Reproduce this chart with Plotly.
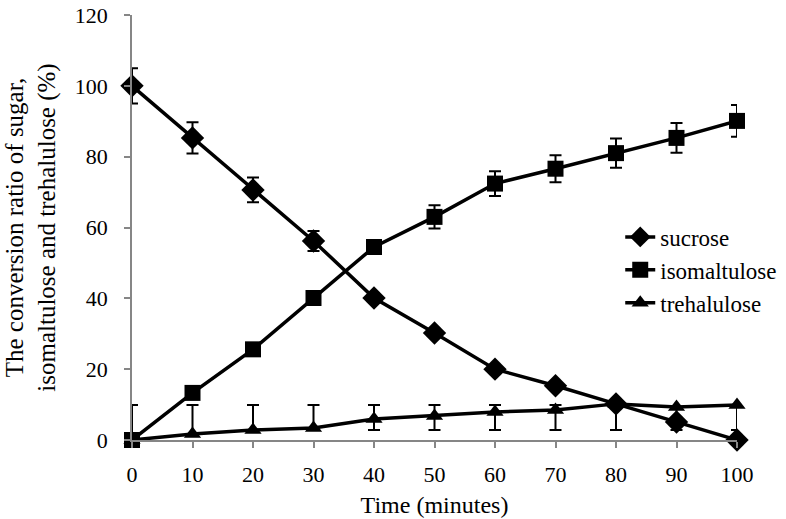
import plotly.graph_objects as go

time_min = [0, 10, 20, 30, 40, 50, 60, 70, 80, 90, 100]
sucrose = [100, 85.3, 70.6, 56.2, 40.1, 30.2, 20.0, 15.3, 10.2, 5.1, 0]
sucrose_err = [5.0, 4.4, 3.5, 2.8, 1.2, 0.5, 0.5, 0.5, 0.5, 0.5, 0]
isomaltulose = [0, 13.3, 25.6, 40.1, 54.5, 63.0, 72.4, 76.6, 81.0, 85.3, 90.1]
isomaltulose_err = [0, 0.5, 0.5, 0.5, 1.5, 3.3, 3.5, 3.8, 4.1, 4.2, 4.5]
trehalulose = [0, 1.7, 2.8, 3.4, 5.9, 6.8, 7.9, 8.5, 10.2, 9.3, 9.9]
trehalulose_err_plus = [9.9, 8.2, 7.1, 6.5, 4.0, 3.1, 2.0, 1.4, 0, 0, 0]
trehalulose_err_minus = [0, 0, 0, 0, 3.1, 4.0, 5.1, 5.7, 7.4, 6.5, 7.1]
y_ticks = [0, 20, 40, 60, 80, 100, 120]

FONT = "Liberation Serif"
AXIS_GREY = "#868686"

fig = go.Figure()

common_err = dict(type="data", color="black", thickness=2, width=6)

fig.add_trace(go.Scatter(
    x=time_min, y=sucrose, name="sucrose", mode="lines+markers",
    line=dict(color="black", width=3.5),
    marker=dict(symbol="diamond", size=18, color="black"),
    error_y=dict(array=sucrose_err, **common_err),
    cliponaxis=False,
))
fig.add_trace(go.Scatter(
    x=time_min, y=isomaltulose, name="isomaltulose", mode="lines+markers",
    line=dict(color="black", width=3.5),
    marker=dict(symbol="square", size=16, color="black"),
    error_y=dict(array=isomaltulose_err, **common_err),
    cliponaxis=False,
))
fig.add_trace(go.Scatter(
    x=time_min, y=trehalulose, name="trehalulose", mode="lines+markers",
    line=dict(color="black", width=3.5),
    marker=dict(symbol="triangle-up", size=15, color="black"),
    error_y=dict(symmetric=False, array=trehalulose_err_plus,
                 arrayminus=trehalulose_err_minus, **common_err),
    cliponaxis=False,
))

fig.update_layout(
    width=786, height=519,
    margin=dict(l=132, r=49, t=15, b=79, autoexpand=False),
    paper_bgcolor="white", plot_bgcolor="white",
    font=dict(family=FONT, size=24, color="black"),
    showlegend=True,
    legend=dict(x=0.807, y=0.40, xanchor="left", yanchor="middle",
                bgcolor="rgba(0,0,0,0)", font=dict(family=FONT, size=23, color="black"),
                tracegroupgap=0),
    xaxis=dict(
        range=[0, 100], tickmode="array", tickvals=time_min,
        ticks="outside", ticklen=6, tickcolor=AXIS_GREY, tickwidth=1.5,
        showline=True, linecolor=AXIS_GREY, linewidth=1.5,
        showgrid=False, zeroline=False, ticklabelstandoff=8, automargin=False,
        title=dict(text="Time (minutes)", font=dict(family=FONT, size=24, color="black"), standoff=10),
        tickfont=dict(family=FONT, size=22, color="black"),
    ),
    yaxis=dict(
        range=[0, 120], tickmode="array", tickvals=y_ticks,
        ticks="outside", ticklen=6, tickcolor=AXIS_GREY, tickwidth=1.5,
        showline=True, linecolor=AXIS_GREY, linewidth=1.5,
        showgrid=False, zeroline=False, ticklabelstandoff=12, automargin=False,
        title=dict(text="The conversion ratio of sugar,<br>isomaltulose and trehalulose (%)",
                   font=dict(family=FONT, size=25, color="black"), standoff=12),
        tickfont=dict(family=FONT, size=22, color="black"),
    ),
)

fig.write_html("out.html", config={"displayModeBar": False},
               post_script="document.body.style.margin='0';document.body.style.overflow='hidden';")
